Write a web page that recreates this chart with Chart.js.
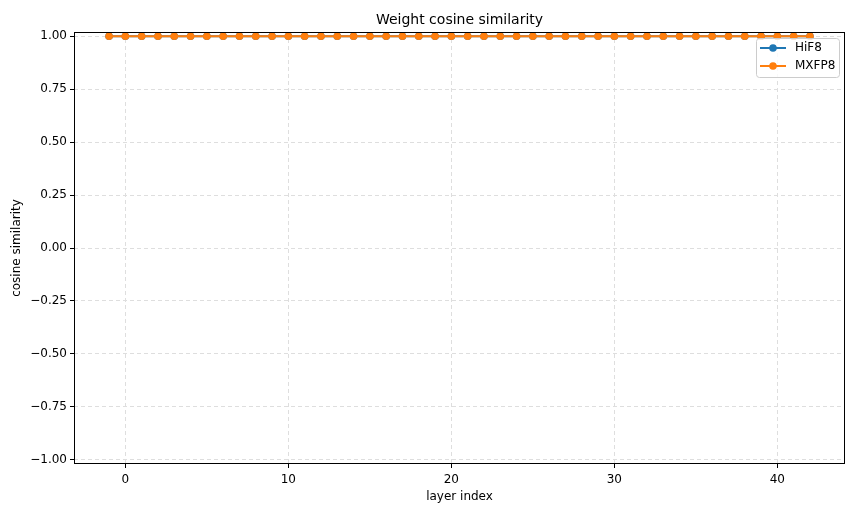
<!DOCTYPE html>
<html lang="en">
<head>
  <meta charset="UTF-8" />
  <title>Weight cosine similarity</title>
  <script src="https://cdn.jsdelivr.net/npm/chart.js"></script>
  <style>
    body { margin: 0; background: #fff; }
    .wrap { width: 858px; height: 515px; }
  </style>
</head>
<body>
  <div class="wrap"><canvas id="chart" width="858" height="515"></canvas></div>
  <script>
    // layer indices -1 .. 42
    const layers = [-1, 0, 1, 2, 3, 4, 5, 6, 7, 8, 9, 10, 11, 12, 13, 14, 15, 16, 17, 18, 19, 20,
      21, 22, 23, 24, 25, 26, 27, 28, 29, 30, 31, 32, 33, 34, 35, 36, 37, 38, 39, 40, 41, 42];
    // cosine similarity per layer (all ~1.0)
    const hif8 = [1, 1, 1, 1, 1, 1, 1, 1, 1, 1, 1, 1, 1, 1, 1, 1, 1, 1, 1, 1, 1, 1,
      1, 1, 1, 1, 1, 1, 1, 1, 1, 1, 1, 1, 1, 1, 1, 1, 1, 1, 1, 1, 1, 1];
    const mxfp8 = [1, 1, 1, 1, 1, 1, 1, 1, 1, 1, 1, 1, 1, 1, 1, 1, 1, 1, 1, 1, 1, 1,
      1, 1, 1, 1, 1, 1, 1, 1, 1, 1, 1, 1, 1, 1, 1, 1, 1, 1, 1, 1, 1, 1];
    const xTicks = [0, 10, 20, 30, 40];
    const yTicks = [-1, -0.75, -0.5, -0.25, 0, 0.25, 0.5, 0.75, 1];

    const FONT = "'DejaVu Sans', sans-serif";
    const BLUE = '#1f77b4';
    const ORANGE = '#ff7f0e';

    // title, frame and legend drawn matplotlib-style
    const decor = {
      id: 'decor',
      afterDraw(chart) {
        const ctx = chart.ctx;
        const a = chart.chartArea;
        ctx.save();
        ctx.strokeStyle = '#000';
        ctx.lineWidth = 1;
        ctx.strokeRect(a.left + 0.5, a.top + 0.5, a.right - a.left - 1, a.bottom - a.top - 1);

        ctx.fillStyle = '#000';
        ctx.font = '14px ' + FONT;
        ctx.textAlign = 'center';
        ctx.textBaseline = 'middle';
        ctx.fillText('Weight cosine similarity', (a.left + a.right) / 2, 20);

        // legend
        const lx = 756, ly = 38, lw = 83, lh = 39;
        ctx.fillStyle = 'rgba(255,255,255,0.8)';
        ctx.strokeStyle = '#cccccc';
        ctx.lineWidth = 1;
        ctx.beginPath();
        ctx.roundRect(lx + 0.5, ly + 0.5, lw, lh, 3);
        ctx.fill();
        ctx.stroke();
        chart.data.datasets.forEach((ds, i) => {
          const y = ly + 10 + i * 18;
          ctx.strokeStyle = ds.borderColor;
          ctx.lineWidth = 2;
          ctx.beginPath();
          ctx.moveTo(760, y);
          ctx.lineTo(786, y);
          ctx.stroke();
          ctx.fillStyle = ds.borderColor;
          ctx.beginPath();
          ctx.arc(773, y, 3.8, 0, Math.PI * 2);
          ctx.fill();
          ctx.fillStyle = '#000';
          ctx.font = '12px ' + FONT;
          ctx.textAlign = 'left';
          ctx.fillText(ds.label, 795, y);
        });
        ctx.restore();
      }
    };

    const fmt = v => v.toFixed(2).replace('-', '\u2212');

    const gridOpts = {
      color: '#dedede',
      tickColor: '#000',
      tickLength: 4,
      tickBorderDash: []
    };

    new Chart(document.getElementById('chart'), {
      type: 'line',
      data: {
        datasets: [
          {
            label: 'HiF8',
            data: layers.map((x, i) => ({ x: x, y: hif8[i] })),
            borderColor: BLUE,
            backgroundColor: BLUE,
            borderWidth: 2,
            pointRadius: 3.8,
            pointBorderWidth: 0,
            order: 1
          },
          {
            label: 'MXFP8',
            data: layers.map((x, i) => ({ x: x, y: mxfp8[i] })),
            borderColor: ORANGE,
            backgroundColor: ORANGE,
            borderWidth: 2,
            pointRadius: 3.8,
            pointBorderWidth: 0,
            order: 0
          }
        ]
      },
      options: {
        responsive: false,
        animation: false,
        layout: { padding: { top: 32, right: 13, left: 0, bottom: 0 } },
        plugins: {
          legend: { display: false },
          title: { display: false },
          tooltip: { enabled: false }
        },
        scales: {
          x: {
            type: 'linear',
            min: -3.15,
            max: 44.15,
            afterBuildTicks: s => { s.ticks = xTicks.map(v => ({ value: v })); },
            afterFit: s => { s.height = 51; },
            grid: gridOpts,
            border: { display: false, dash: [4, 3] },
            ticks: {
              color: '#000',
              font: { family: FONT, size: 12 },
              padding: 5,
              maxRotation: 0,
              callback: v => String(v)
            },
            title: {
              display: true,
              text: 'layer index',
              color: '#000',
              font: { family: FONT, size: 12 },
              padding: { top: 0, bottom: 11 }
            }
          },
          y: {
            min: -1.02,
            max: 1.02,
            afterBuildTicks: s => { s.ticks = yTicks.map(v => ({ value: v })); },
            afterFit: s => { s.width = 74; },
            grid: gridOpts,
            border: { display: false, dash: [4, 3] },
            ticks: {
              color: '#000',
              font: { family: FONT, size: 12 },
              padding: 3,
              callback: v => fmt(v)
            },
            title: {
              display: true,
              text: 'cosine similarity',
              color: '#000',
              font: { family: FONT, size: 12 },
              padding: { top: 10, bottom: 0 }
            }
          }
        }
      },
      plugins: [decor]
    });
  </script>
</body>
</html>
